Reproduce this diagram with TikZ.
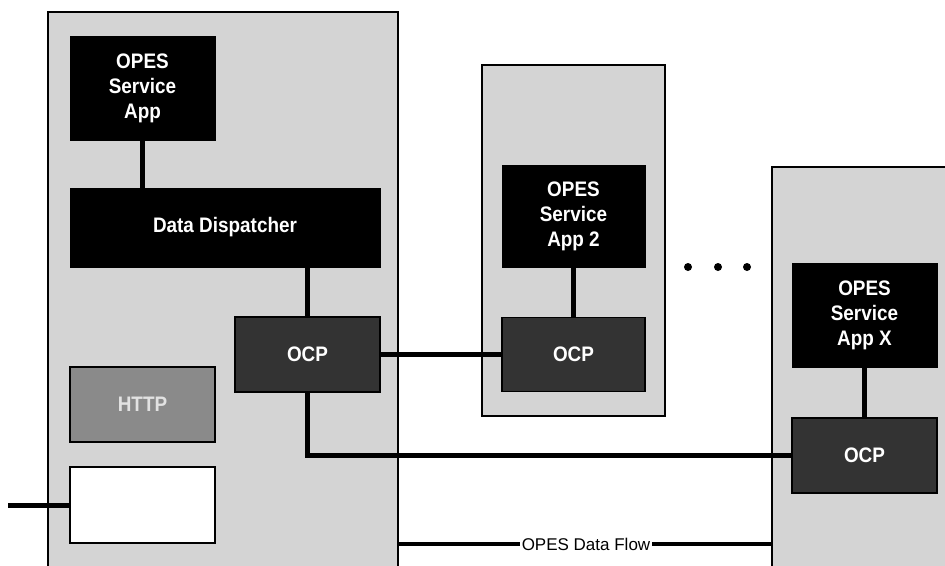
\documentclass[tikz,border=0pt]{standalone}
\usepackage{fontspec}
\setmainfont{Liberation Sans}
\newfontfamily\boxfont{Liberation Sans}[FakeStretch=0.9]
\definecolor{panel}{HTML}{D4D4D4}
\definecolor{ocpgrey}{HTML}{333333}
\definecolor{httpgrey}{HTML}{8A8A8A}
\definecolor{httptext}{HTML}{E2E2E2}
\tikzset{
  panelbox/.style={draw=black, line width=1.2pt, fill=panel},
  appbox/.style={draw=black, fill=black, text=white, align=center,
    font=\boxfont\bfseries\fontsize{21}{25}\selectfont,
    minimum width=145pt, inner sep=0pt},
  ocpbox/.style={draw=black, line width=1.5pt, fill=ocpgrey, text=white,
    font=\boxfont\bfseries\fontsize{21}{24}\selectfont,
    minimum width=145pt, minimum height=75pt, inner sep=0pt},
  link/.style={line width=5pt, black},
  flowline/.style={line width=4pt, black}
}
\begin{document}
\begin{tikzpicture}[x=1pt, y=-1pt]
  \useasboundingbox (0,0) rectangle (945,565);
  \clip (0,0) rectangle (945,565);

  % host panels
  \draw[panelbox] (48,12) rectangle (398,575);
  \draw[panelbox] (482,65) rectangle (665,416);
  \draw[panelbox] (772,167) rectangle (960,575);

  % main host
  \node[appbox, minimum height=104pt] (app) at (142.5,88) {OPES\\Service\\App};
  \node[appbox, minimum width=310pt, minimum height=79pt] (dd) at (225,227.5) {Data Dispatcher};
  \node[ocpbox] (ocp) at (307.5,354.5) {OCP};
  \node[draw=black, line width=2pt, fill=httpgrey, text=httptext,
        font=\boxfont\bfseries\fontsize{21}{24}\selectfont,
        minimum width=145pt, minimum height=75pt] (http) at (142.5,404.5) {HTTP};
  \node[draw=black, line width=2pt, fill=white,
        minimum width=145pt, minimum height=76pt] (wire) at (142.5,505) {};
  \coordinate (inlet) at (8,505);

  % second host
  \node[appbox, minimum width=143pt, minimum height=102pt] (app2) at (573.5,216) {OPES\\Service\\App 2};
  \node[ocpbox, minimum width=143pt, minimum height=74pt] (ocp2) at (573.5,354.5) {OCP};

  % last host
  \node[appbox, minimum height=104pt] (appx) at (864.5,315) {OPES\\Service\\App X};
  \node[ocpbox] (ocpx) at (864.5,455.5) {OCP};

  % ellipsis between hosts
  \foreach \px in {688,718,747}
    \fill[black] (\px,267) circle (4pt);

  % connectors
  \draw[link] (app.south) -- (app.south |- dd.north);
  \draw[link] (ocp.north) -- (ocp.north |- dd.south);
  \draw[link] (ocp.east) -- (ocp2.west);
  \draw[link] (ocp.south) |- (ocpx.west);
  \draw[link] (app2.south) -- (ocp2.north);
  \draw[link] (appx.south) -- (ocpx.north);
  \draw[link] (inlet) -- (wire.west);

  % data flow between hosts
  \coordinate (flowa) at (398,544);
  \coordinate (flowb) at (772,544);
  \node[fill=white, inner sep=2pt, font=\fontsize{17}{19}\selectfont] (flow) at (586,544) {OPES Data Flow};
  \draw[flowline] (flowa) -- (flow.west);
  \draw[flowline] (flow.east) -- (flowb);
\end{tikzpicture}
\end{document}
